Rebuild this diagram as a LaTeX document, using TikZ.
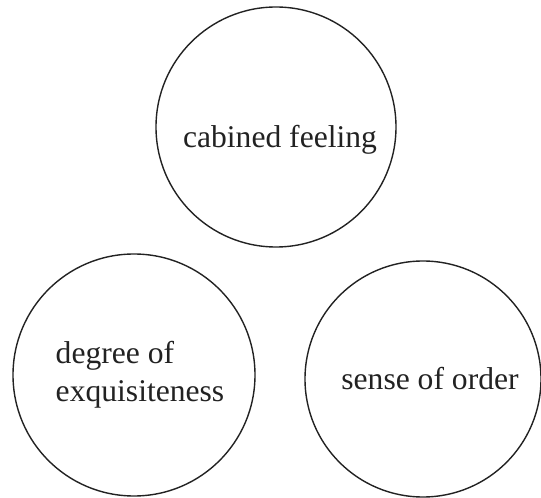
\documentclass[tikz,border=0pt]{standalone}
\usepackage{fontspec}
\setmainfont{Liberation Serif}
\usetikzlibrary{positioning}
\definecolor{ink}{RGB}{34,34,34}
\tikzset{
  ring/.style={circle,draw=ink,line width=.7pt,inner sep=0pt},
  word/.style={font=\fontsize{15.8}{19}\selectfont,text=ink,align=left,inner sep=0pt}
}
\begin{document}
\begin{tikzpicture}[x=.5pt,y=.5pt]
  \useasboundingbox (0,0) rectangle (541,498);
  % three rings
  \node[ring,minimum size=120pt] (feel) at (276,371) {};
  \node[ring,minimum size=121pt] (degree) at (134,123) {};
  \node[ring,minimum size=118pt] (order) at (423,119) {};

  \node[word] (feeltxt) at ([xshift=2pt,yshift=-6.5pt]feel.center) {cabined feeling};
  \node[word] (degreetxt) at ([xshift=3pt,yshift=0pt]degree.center) {degree of\\exquisiteness};
  \node[word] (ordertxt) at ([xshift=3.5pt,yshift=0pt]order.center) {sense of order};
\end{tikzpicture}
\end{document}
